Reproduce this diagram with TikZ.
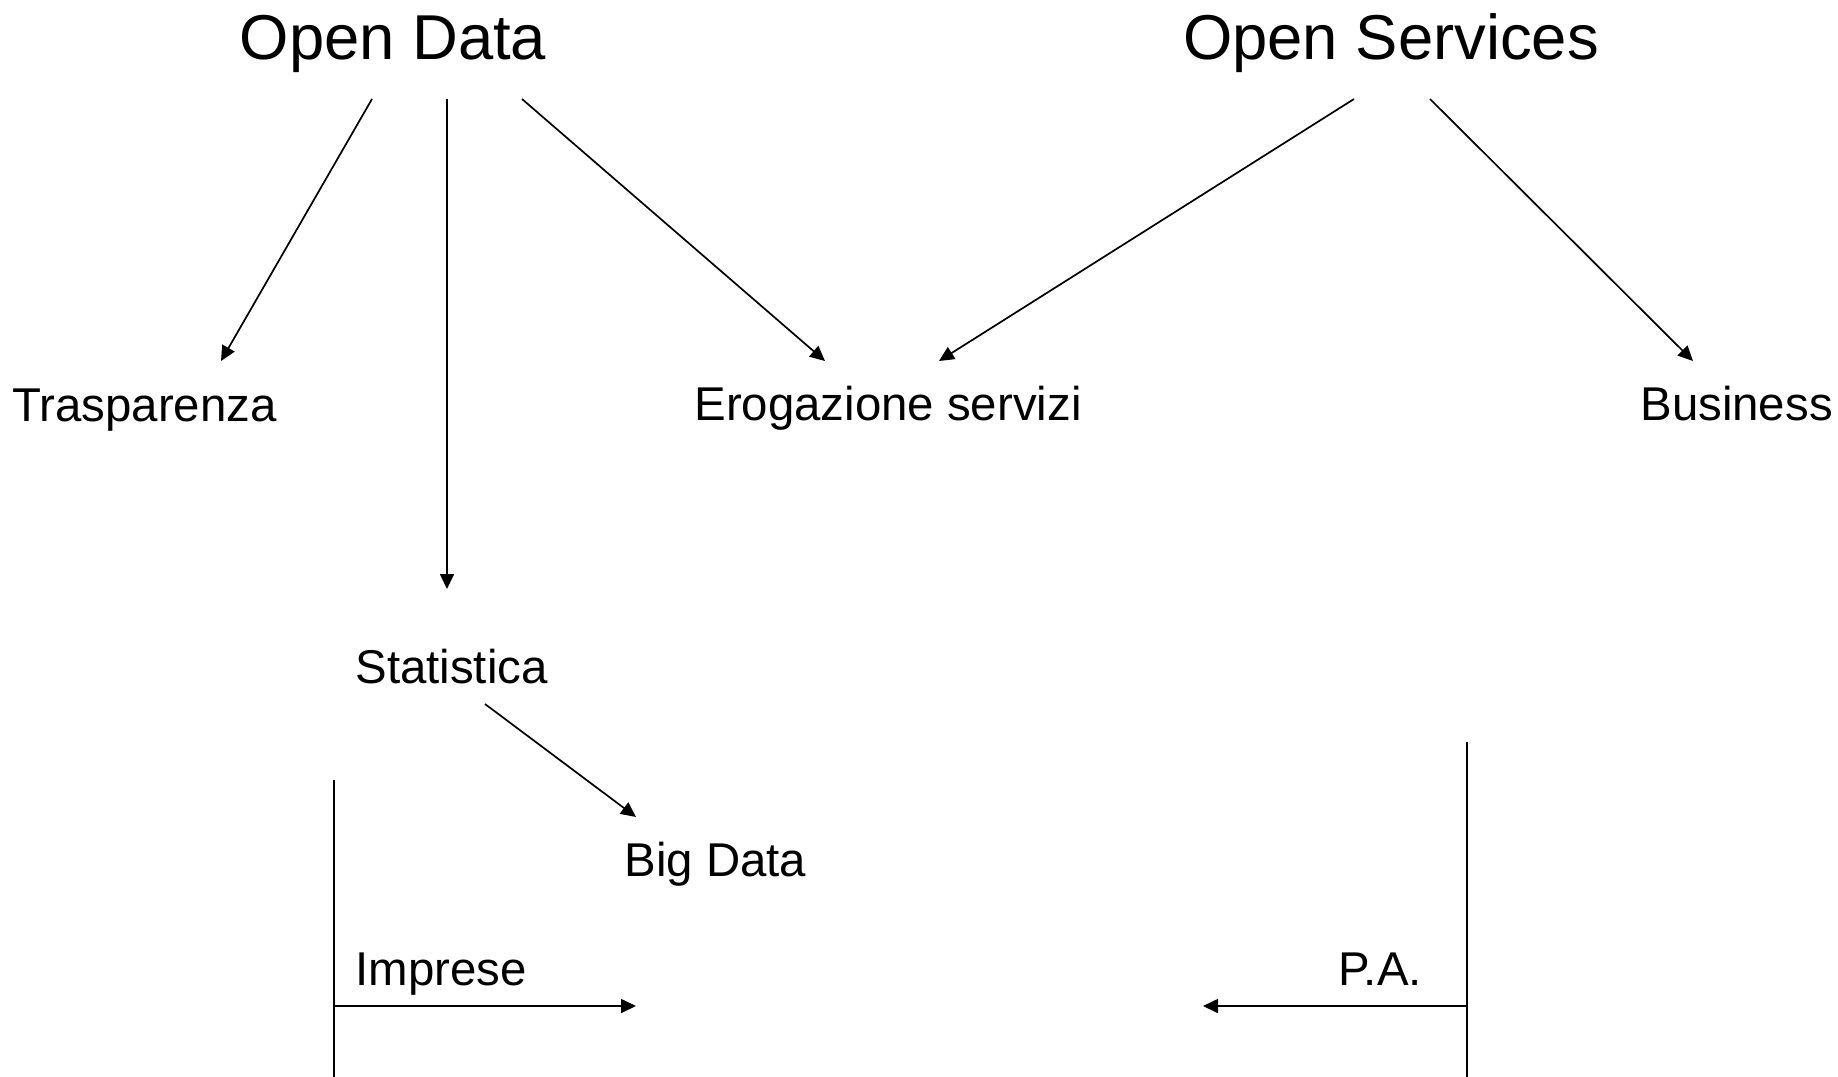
\documentclass[tikz,border=0pt]{standalone}
\usepackage{fontspec}
\setmainfont{Liberation Sans}
\usetikzlibrary{arrows.meta,calc}

\begin{document}
\begin{tikzpicture}[x=0.5pt,y=-0.5pt,
		arr/.style={-{Triangle[length=7.5pt,width=7pt]},line width=0.85pt},
		bar/.style={line width=0.85pt},
		title/.style={font=\fontsize{31.7}{36}\selectfont,inner sep=0pt,anchor=base},
		lbl/.style={font=\fontsize{23.7}{28}\selectfont,inner sep=0pt,anchor=base west}]
			\useasboundingbox (0,0) rectangle (1838,1077);
			% titles and labels
			\node[title] at (393,59) (od) {Open Data};
			\node[title] at (1391,59) (os) {Open Services};
			\node[lbl] at (12,421) (tr) {Trasparenza};
			\node[lbl] at (694,420) (er) {Erogazione servizi};
			\node[lbl] at (1640,420) (bu) {Business};
			\node[lbl] at (355,683) (st) {Statistica};
			\node[lbl] at (624,876) (bd) {Big Data};
			\node[lbl] at (355,985) (im) {Imprese};
			\node[lbl] at (1338,985) (pa) {P.A.};
			% arrow ends
			\coordinate (od-l) at (372,99);   \coordinate (tr-in) at (221,361);
			\coordinate (od-m) at (447,99);   \coordinate (st-in) at (447,589);
			\coordinate (od-r) at (522,99);   \coordinate (er-l) at (825,361);
			\coordinate (os-l) at (1354,99);  \coordinate (er-r) at (939,361);
			\coordinate (os-r) at (1430,99);  \coordinate (bu-in) at (1693,361);
			\coordinate (st-out) at (485,704); \coordinate (bd-in) at (636,817);
			% the two bars
			\coordinate (im-top) at (334,780); \coordinate (im-bot) at (334,1077);
			\coordinate (pa-top) at (1467,742); \coordinate (pa-bot) at (1467,1077);
			\coordinate (im-mid) at ($(im-top)!0.762!(im-bot)$);
			\coordinate (im-end) at (636,1006);
			\coordinate (pa-mid) at (1467,1006);
			\coordinate (pa-end) at (1203,1006);
			\draw[arr] (od-l) -- (tr-in);
			\draw[arr] (od-m) -- (st-in);
			\draw[arr] (od-r) -- (er-l);
			\draw[arr] (os-l) -- (er-r);
			\draw[arr] (os-r) -- (bu-in);
			\draw[arr] (st-out) -- (bd-in);
			\draw[bar] (im-top) -- (im-bot);
			\draw[bar] (pa-top) -- (pa-bot);
			\draw[arr] (im-mid |- im-end) -- (im-end);
			\draw[arr] (pa-mid) -- (pa-end);
		\end{tikzpicture}
\end{document}
